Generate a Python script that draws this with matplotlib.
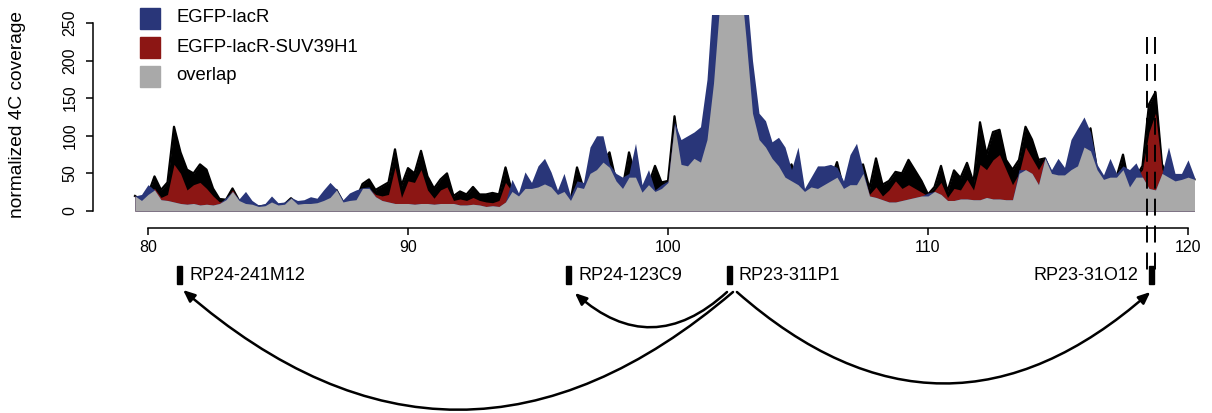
import numpy as np
import matplotlib
matplotlib.use("Agg")
import matplotlib.pyplot as plt
from matplotlib.patches import Rectangle

plt.rcParams["font.family"] = ["Liberation Sans", "DejaVu Sans"]

# genomic positions (Mb), one bin every 0.25 Mb
pos = np.arange(79.5, 120.26, 0.25)

# EGFP-lacR coverage
lacr = [20, 22,
        35, 28, 15, 14,
        12, 10, 9, 10,
        8, 9, 8, 10,
        18, 26, 16, 26,
        14, 8, 10, 20,
        11, 12, 18, 14,
        15, 19, 17, 28,
        38, 29, 15, 24,
        28, 31, 32, 19,
        14, 12, 10, 10,
        10, 9, 10, 10,
        9, 10, 10, 10,
        8, 8, 9, 8,
        6, 7, 6, 12,
        42, 24, 52, 38,
        60, 70, 52, 28,
        50, 20, 40, 38,
        85, 100, 100, 62,
        50, 45, 50, 90,
        35, 55, 28, 35,
        40, 118, 95, 100,
        105, 112, 175, 300,
        300, 320, 330, 320,
        300, 200, 130, 120,
        92, 98, 85, 55,
        85, 30, 45, 60,
        60, 62, 58, 40,
        75, 90, 55, 20,
        18, 15, 12, 12,
        14, 16, 18, 20,
        24, 26, 22, 14,
        14, 16, 16, 15,
        15, 18, 16, 16,
        15, 15, 55, 55,
        50, 35, 72, 55,
        70, 58, 95, 110,
        125, 105, 62, 48,
        70, 50, 60, 55,
        64, 45, 30, 28,
        50, 85, 50, 50,
        68, 45]

# EGFP-lacR-SUV39H1 coverage (filled level)
suv = [20, 14,
       22, 30, 18, 22,
       62, 50, 28, 35,
       38, 30, 20, 12,
       15, 28, 14, 10,
       9, 6, 7, 12,
       8, 9, 17, 9,
       10, 10, 11, 14,
       18, 28, 12, 14,
       15, 30, 30, 22,
       20, 22, 58, 18,
       40, 38, 55, 28,
       17, 28, 32, 14,
       16, 14, 18, 14,
       12, 11, 14, 38,
       26, 20, 30, 30,
       32, 36, 32, 22,
       26, 14, 32, 30,
       50, 55, 65, 58,
       40, 30, 45, 45,
       25, 35, 26, 30,
       38, 115, 62, 60,
       70, 65, 95, 170,
       280, 320, 330, 320,
       230, 130, 95, 85,
       70, 60, 45, 40,
       35, 26, 32, 30,
       35, 40, 45, 30,
       35, 35, 50, 22,
       32, 20, 28, 40,
       30, 35, 30, 25,
       20, 27, 38, 18,
       30, 28, 42, 28,
       62, 55, 68, 75,
       55, 35, 50, 85,
       70, 55, 70, 50,
       48, 48, 55, 60,
       85, 80, 55, 42,
       45, 45, 55, 32,
       45, 55, 105, 130,
       55, 45, 40, 42,
       45, 42]

# EGFP-lacR-SUV39H1 raw signal peaks (black trace)
suv_peak = [20, 14,
            22, 46, 28, 38,
            112, 78, 55, 50,
            62, 55, 30, 16,
            15, 30, 14, 10,
            9, 6, 7, 12,
            8, 9, 17, 9,
            10, 10, 11, 14,
            18, 28, 12, 14,
            15, 36, 42, 28,
            33, 38, 82, 34,
            57, 50, 80, 46,
            30, 42, 50, 20,
            26, 22, 32, 22,
            22, 24, 22, 58,
            26, 20, 30, 30,
            32, 36, 32, 22,
            26, 14, 58, 30,
            50, 55, 65, 78,
            40, 30, 78, 45,
            25, 35, 60, 38,
            40, 126, 62, 60,
            70, 65, 95, 170,
            280, 320, 330, 320,
            230, 130, 100, 90,
            72, 62, 45, 62,
            35, 26, 32, 30,
            35, 40, 65, 30,
            35, 35, 62, 30,
            70, 35, 40, 52,
            50, 68, 54, 40,
            22, 32, 60, 26,
            54, 44, 64, 38,
            118, 75, 105, 108,
            68, 55, 68, 112,
            95, 68, 70, 50,
            48, 48, 55, 60,
            85, 110, 55, 42,
            45, 45, 75, 32,
            45, 60, 142, 158,
            62, 45, 40, 42,
            45, 42]

bac_names = ["RP24-241M12", "RP24-123C9", "RP23-311P1", "RP23-31O12"]
bac_pos = [81.23, 96.19, 102.35, 118.58]
bound_pos = [118.42, 118.73]

legend_labels = ["EGFP-lacR", "EGFP-lacR-SUV39H1", "overlap"]
c_blue = "#293679"
c_red = "#8C1614"
c_gray = "#A9A9A9"

W, H = 1212, 413
fig = plt.figure(figsize=(W / 100, H / 100), dpi=100)

xl = (80 + (93 - 148) / 26, 80 + (1208 - 148) / 26)
ax = fig.add_axes([93 / W, (H - 211) / H, (1208 - 93) / W, (211 - 15) / H])
ax.set_xlim(xl)
ax.set_ylim(0, 260.6)

lacr = np.array(lacr, float)
suv = np.array(suv, float)
suv_peak = np.array(suv_peak, float)
overlap = np.minimum(lacr, suv)

# black raw trace first, then the fills on top of it
ax.fill_between(pos, 0, suv_peak, color="black", lw=0, zorder=1)
ax.plot(pos, suv_peak, color="black", lw=1.6, zorder=1)
ax.fill_between(pos, 0, suv, color=c_red, lw=0, zorder=1)
ax.fill_between(pos, 0, lacr, color=c_blue, lw=0, zorder=1)
ax.fill_between(pos, 0, overlap, color=c_gray, lw=0, zorder=1)

# dashed boundary lines
for b in bound_pos:
    ax.plot([b, b], [231, -78], color="black", lw=1.4,
            dashes=(12.2 / 1.4, 7.2 / 1.4), clip_on=False, zorder=3)

for s in ["top", "right"]:
    ax.spines[s].set_visible(False)
ax.spines["left"].set_bounds(0, 250)
ax.spines["bottom"].set_position(("outward", 12))
ax.spines["bottom"].set_bounds(80, 120)
for s in ["left", "bottom"]:
    ax.spines[s].set_linewidth(1.1)

ax.set_yticks(range(0, 251, 50))
ax.set_yticklabels([str(v) for v in range(0, 251, 50)], rotation=90, va="center")
ax.set_xticks(range(80, 121, 10))
ax.tick_params(labelsize=11.5, length=5, width=1.1, pad=4)
ax.tick_params(axis="y", pad=6)

fig.text(18 / W, 1 - 114 / H, "normalized 4C coverage", rotation=90,
         ha="center", va="center", fontsize=13.8)

# legend
for i, (lab, col) in enumerate(zip(legend_labels, [c_blue, c_red, c_gray])):
    yc = 18 + 29 * i
    fig.patches.append(Rectangle((140 / W, 1 - (yc + 10.5) / H), 20 / W, 21 / H,
                                 transform=fig.transFigure, color=col))
    fig.text(176 / W, 1 - yc / H, lab, ha="left", va="center", fontsize=13.3)

# BAC track and interactions
ax2 = fig.add_axes([93 / W, 0, (1208 - 93) / W, 173 / H])
ax2.set_xlim(xl)
ax2.set_ylim(0, 173)
ax2.axis("off")

bw = 5 / 26
for i, (name, p) in enumerate(zip(bac_names, bac_pos)):
    ax2.add_patch(Rectangle((p - bw / 2, 129), bw, 18, color="black"))
    if i == len(bac_names) - 1:
        ax2.text(p - 0.5, 138, name, ha="right", va="center", fontsize=13)
    else:
        ax2.text(p + 0.35, 138, name, ha="left", va="center", fontsize=13)

arcs = [(102.5, 81.35, 123, -0.43),
        (102.27, 96.42, 120, -0.45),
        (102.65, 118.55, 121, 0.44)]
for x0, x1, y1, rad in arcs:
    ax2.annotate("", xy=(x1, y1), xytext=(x0, 121),
                 arrowprops=dict(arrowstyle="-|>,head_length=0.7,head_width=0.3",
                                 connectionstyle=f"arc3,rad={rad}",
                                 color="black", lw=1.8,
                                 shrinkA=0, shrinkB=0))

fig.savefig("out.png", dpi=100)
